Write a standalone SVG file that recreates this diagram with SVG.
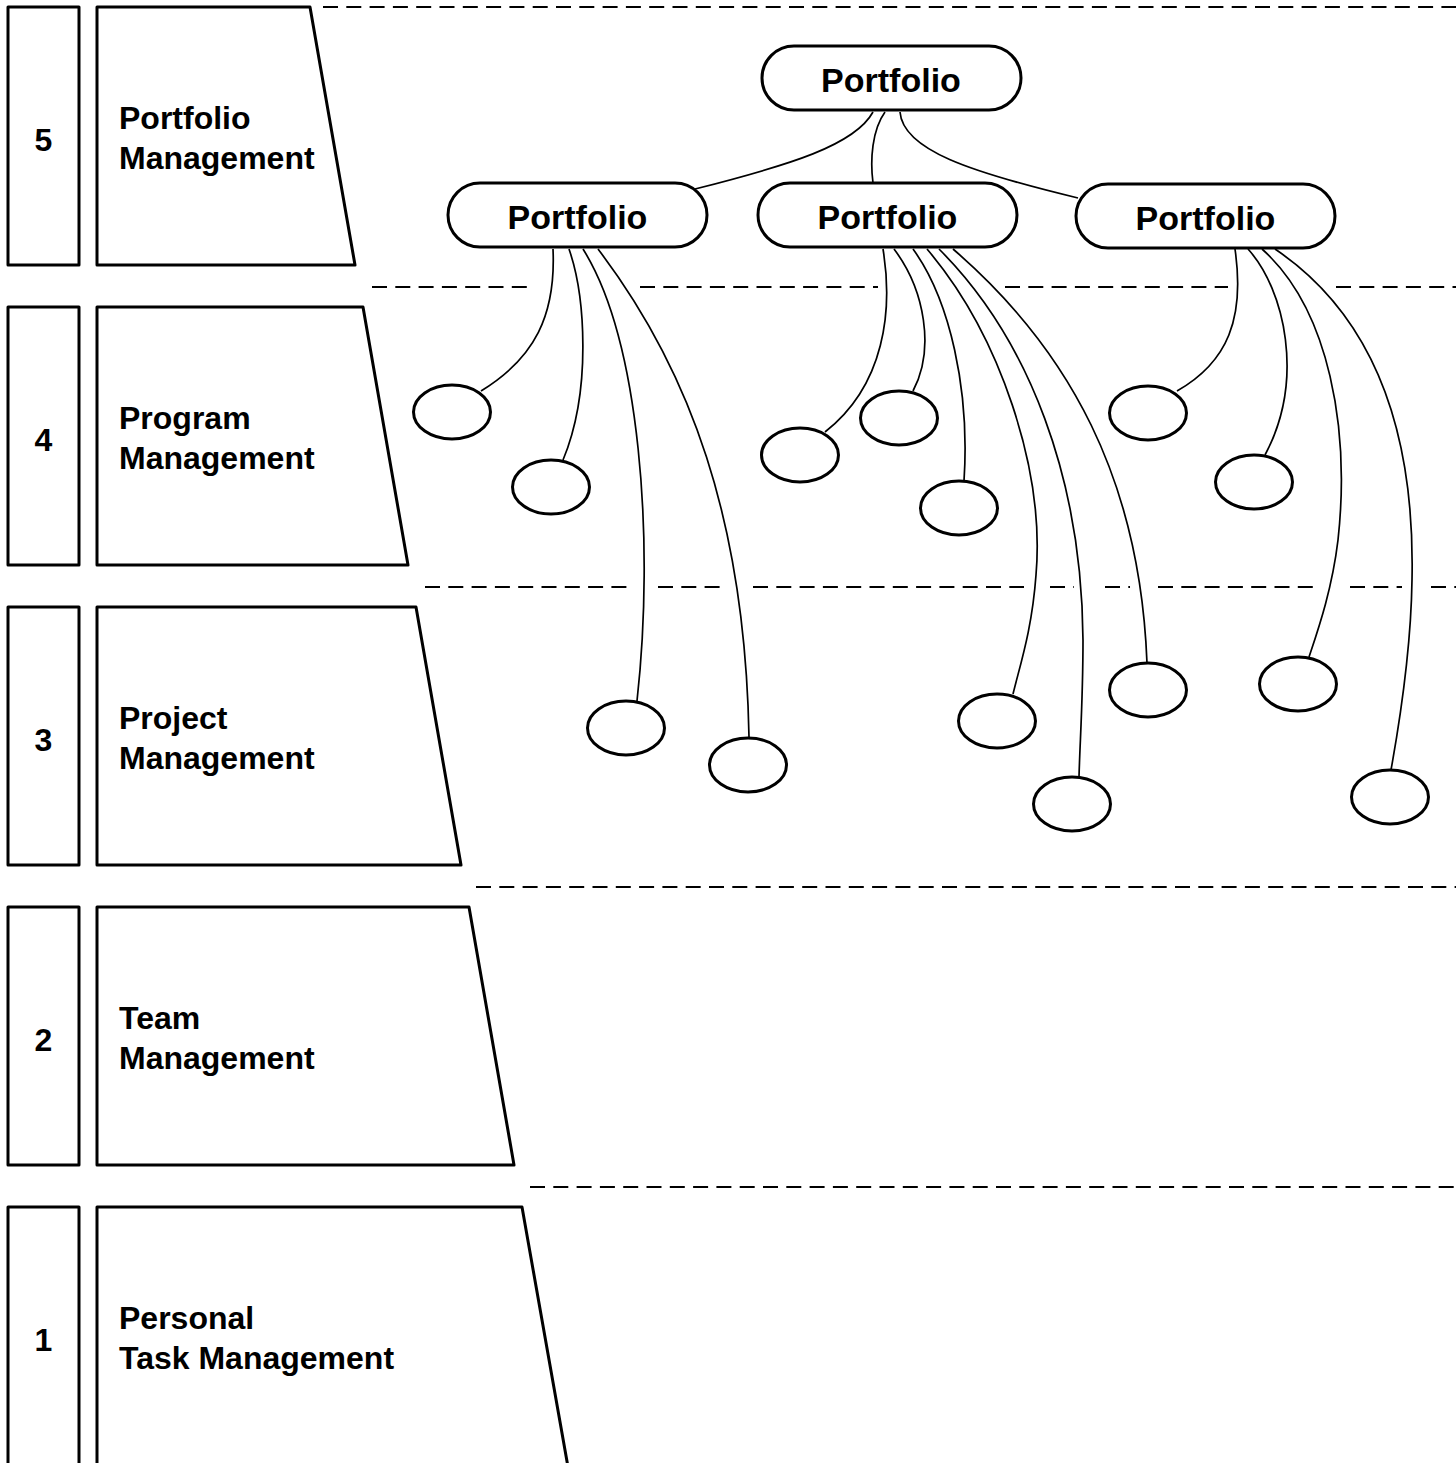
<svg xmlns="http://www.w3.org/2000/svg" width="1456" height="1463" viewBox="0 0 1456 1463">
<style>
.box{fill:#fff;stroke:#000;stroke-width:3;stroke-linejoin:round}
.num{font-family:"Liberation Sans",Arial,sans-serif;font-weight:bold;font-size:32px;text-anchor:middle;fill:#000}
.lbl{font-family:"Liberation Sans",Arial,sans-serif;font-weight:bold;font-size:32px;fill:#000}
.pill{fill:#fff;stroke:#000;stroke-width:3}
.ptxt{font-family:"Liberation Sans",Arial,sans-serif;font-weight:bold;font-size:34px;text-anchor:middle;fill:#000}
.leaf{fill:#fff;stroke:#000;stroke-width:3}
.dash{fill:none;stroke:#000;stroke-width:2;stroke-dasharray:15 8.3}
.conn{fill:none;stroke:#000;stroke-width:1.7}
</style>
<rect width="1456" height="1463" fill="#fff"/>
<g id="separators">
<path class="dash" d="M323 7H1456"/>
<path class="dash" d="M372 287H529 M640 287H878 M1005 287H1228 M1336 287H1456"/>
<path class="dash" d="M425 587H630 M658 587H724 M753 587H1024 M1050 587H1074 M1105 587H1130 M1158 587H1316 M1350 587H1402 M1431 587H1456"/>
<path class="dash" d="M476 887H1456"/>
<path class="dash" d="M530 1187H1456"/>
</g>
<g id="level5">
<rect class="box" x="8" y="7" width="71" height="258"/>
<path class="box" d="M97 7H310L355 265H97Z"/>
<text class="num" x="43.5" y="151">5</text>
<text class="lbl" x="119" y="129">Portfolio</text>
<text class="lbl" x="119" y="169">Management</text>
</g>
<g id="level4">
<rect class="box" x="8" y="307" width="71" height="258"/>
<path class="box" d="M97 307H363L408 565H97Z"/>
<text class="num" x="43.5" y="451">4</text>
<text class="lbl" x="119" y="429">Program</text>
<text class="lbl" x="119" y="469">Management</text>
</g>
<g id="level3">
<rect class="box" x="8" y="607" width="71" height="258"/>
<path class="box" d="M97 607H416L461 865H97Z"/>
<text class="num" x="43.5" y="751">3</text>
<text class="lbl" x="119" y="729">Project</text>
<text class="lbl" x="119" y="769">Management</text>
</g>
<g id="level2">
<rect class="box" x="8" y="907" width="71" height="258"/>
<path class="box" d="M97 907H469L514 1165H97Z"/>
<text class="num" x="43.5" y="1051">2</text>
<text class="lbl" x="119" y="1029">Team</text>
<text class="lbl" x="119" y="1069">Management</text>
</g>
<g id="level1">
<rect class="box" x="8" y="1207" width="71" height="260"/>
<path class="box" d="M97 1207H522L568 1467H97Z"/>
<text class="num" x="43.5" y="1351">1</text>
<text class="lbl" x="119" y="1329">Personal</text>
<text class="lbl" x="119" y="1369">Task Management</text>
</g>
<g id="connectors">
<path class="conn" d="M873 112C855 145 790 165 695 189"/>
<path class="conn" d="M885 112C872 130 870 160 873 183"/>
<path class="conn" d="M900 112C903 150 970 172 1078 198"/>
<path class="conn" d="M553 249C556 315 535 358 481 391"/>
<path class="conn" d="M569 249C585 295 592 390 563 460"/>
<path class="conn" d="M583 249C640 340 655 540 637 701"/>
<path class="conn" d="M598 249C690 370 745 520 749 737"/>
<path class="conn" d="M883 249C893 310 885 385 825 432"/>
<path class="conn" d="M894 249C925 290 935 350 913 391"/>
<path class="conn" d="M913 249C950 300 970 390 964 481"/>
<path class="conn" d="M927 249C1000 335 1045 470 1036 575C1032 630 1020 665 1013 694"/>
<path class="conn" d="M939 249C1030 340 1082 480 1083 640C1083 700 1080 740 1079 777"/>
<path class="conn" d="M953 249C1070 350 1140 480 1147 663"/>
<path class="conn" d="M1235 249C1245 318 1228 362 1177 391"/>
<path class="conn" d="M1248 249C1285 290 1305 380 1265 455"/>
<path class="conn" d="M1262 249C1330 310 1350 430 1338 540C1332 590 1318 630 1309 657"/>
<path class="conn" d="M1275 249C1380 320 1415 440 1412 580C1411 650 1400 720 1391 770"/>
</g>
<g id="portfolio-top">
<rect class="pill" x="762" y="46" width="259" height="64" rx="32"/>
<text class="ptxt" x="891" y="92">Portfolio</text>
</g>
<g id="portfolio-left">
<rect class="pill" x="448" y="183" width="259" height="64" rx="32"/>
<text class="ptxt" x="577.5" y="229">Portfolio</text>
</g>
<g id="portfolio-center">
<rect class="pill" x="758" y="183" width="259" height="64" rx="32"/>
<text class="ptxt" x="887.5" y="229">Portfolio</text>
</g>
<g id="portfolio-right">
<rect class="pill" x="1076" y="184" width="259" height="64" rx="32"/>
<text class="ptxt" x="1205.5" y="230">Portfolio</text>
</g>
<g id="leaf1"><ellipse class="leaf" cx="452" cy="412" rx="38.5" ry="27"/></g>
<g id="leaf2"><ellipse class="leaf" cx="551" cy="487" rx="38.5" ry="27"/></g>
<g id="leaf3"><ellipse class="leaf" cx="800" cy="455" rx="38.5" ry="27"/></g>
<g id="leaf4"><ellipse class="leaf" cx="899" cy="418" rx="38.5" ry="27"/></g>
<g id="leaf5"><ellipse class="leaf" cx="959" cy="508" rx="38.5" ry="27"/></g>
<g id="leaf6"><ellipse class="leaf" cx="1148" cy="413" rx="38.5" ry="27"/></g>
<g id="leaf7"><ellipse class="leaf" cx="1254" cy="482" rx="38.5" ry="27"/></g>
<g id="leaf8"><ellipse class="leaf" cx="626" cy="728" rx="38.5" ry="27"/></g>
<g id="leaf9"><ellipse class="leaf" cx="748" cy="765" rx="38.5" ry="27"/></g>
<g id="leaf10"><ellipse class="leaf" cx="997" cy="721" rx="38.5" ry="27"/></g>
<g id="leaf11"><ellipse class="leaf" cx="1072" cy="804" rx="38.5" ry="27"/></g>
<g id="leaf12"><ellipse class="leaf" cx="1148" cy="690" rx="38.5" ry="27"/></g>
<g id="leaf13"><ellipse class="leaf" cx="1298" cy="684" rx="38.5" ry="27"/></g>
<g id="leaf14"><ellipse class="leaf" cx="1390" cy="797" rx="38.5" ry="27"/></g>
</svg>
